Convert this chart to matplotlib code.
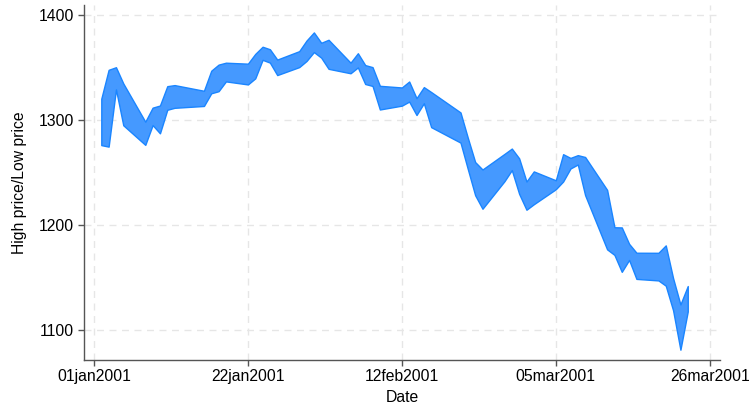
import matplotlib
matplotlib.use("Agg")
import matplotlib.pyplot as plt
import matplotlib.dates as mdates
import pandas as pd

plt.rcParams['font.family'] = ['Liberation Sans', 'DejaVu Sans']

# S&P 500 daily high/low, first quarter 2001
dates = [
    "2001-01-02", "2001-01-03", "2001-01-04", "2001-01-05", "2001-01-08", "2001-01-09",
    "2001-01-10", "2001-01-11", "2001-01-12", "2001-01-16", "2001-01-17", "2001-01-18",
    "2001-01-19", "2001-01-22", "2001-01-23", "2001-01-24", "2001-01-25", "2001-01-26",
    "2001-01-29", "2001-01-30", "2001-01-31", "2001-02-01", "2001-02-02", "2001-02-05",
    "2001-02-06", "2001-02-07", "2001-02-08", "2001-02-09", "2001-02-12", "2001-02-13",
    "2001-02-14", "2001-02-15", "2001-02-16", "2001-02-20", "2001-02-21", "2001-02-22",
    "2001-02-23", "2001-02-26", "2001-02-27", "2001-02-28", "2001-03-01", "2001-03-02",
    "2001-03-05", "2001-03-06", "2001-03-07", "2001-03-08", "2001-03-09", "2001-03-12",
    "2001-03-13", "2001-03-14", "2001-03-15", "2001-03-16", "2001-03-19", "2001-03-20",
    "2001-03-21", "2001-03-22", "2001-03-23",
]
high = [
    1320.28, 1347.76, 1350.24, 1334.77, 1298.35, 1311.72, 1313.76, 1332.19, 1333.21,
    1327.81, 1346.92, 1352.71, 1354.55, 1353.62, 1362.90, 1369.75, 1367.35, 1357.51,
    1365.54, 1375.68, 1383.37, 1373.50, 1376.38, 1354.56, 1363.55, 1352.26, 1350.32,
    1332.53, 1330.96, 1336.62, 1320.73, 1331.29, 1326.61, 1307.16, 1282.97, 1259.94,
    1252.82, 1267.69, 1272.76, 1263.47, 1241.36, 1251.01, 1242.55, 1267.42, 1263.86,
    1266.50, 1264.74, 1233.42, 1197.83, 1197.66, 1182.04, 1173.56, 1173.50, 1180.56,
    1149.39, 1124.27, 1141.83,
]
low = [
    1276.05, 1274.62, 1329.14, 1294.95, 1276.29, 1295.14, 1287.28, 1309.72, 1311.59,
    1313.33, 1325.41, 1327.41, 1336.74, 1333.84, 1339.63, 1357.28, 1354.63, 1342.75,
    1350.36, 1356.20, 1364.66, 1359.34, 1348.72, 1344.48, 1350.04, 1334.26, 1332.42,
    1309.98, 1313.64, 1317.51, 1304.72, 1315.92, 1293.18, 1278.44, 1253.16, 1228.33,
    1215.44, 1241.71, 1252.26, 1229.65, 1214.50, 1219.74, 1234.04, 1241.41, 1253.80,
    1257.60, 1228.42, 1176.78, 1171.50, 1155.35, 1166.71, 1148.64, 1147.18, 1142.19,
    1118.74, 1081.19, 1117.58,
]
tick_dates = ["2001-01-01", "2001-01-22", "2001-02-12", "2001-03-05", "2001-03-26"]
tick_labels = ["01jan2001", "22jan2001", "12feb2001", "05mar2001", "26mar2001"]
y_ticks = [1100, 1200, 1300, 1400]

x = mdates.date2num(pd.to_datetime(dates))
xt = mdates.date2num(pd.to_datetime(tick_dates))

fig = plt.figure(figsize=(7.52, 4.07), dpi=100)
left, right, bottom, top = 84 / 752, 720 / 752, (407 - 360) / 407, (407 - 5) / 407
ax = fig.add_axes([left, bottom, right - left, top - bottom])

ax.fill_between(x, low, high, facecolor="#4599ff", edgecolor="#1a85ff",
                linewidth=1.0, zorder=3)

ax.set_xticks(xt)
ax.set_xticklabels(tick_labels)
ax.set_yticks(y_ticks)
ax.set_xlim(xt[0] - 1.36, xt[0] + 85.4)
ax.set_ylim(1071.4, 1409.5)

ax.grid(True, color="#e6e6e6", linestyle=(0, (5, 4)), linewidth=1.0, zorder=0)
ax.set_axisbelow(True)

for side in ("top", "right"):
    ax.spines[side].set_visible(False)
for side in ("left", "bottom"):
    ax.spines[side].set_color("#555555")
    ax.spines[side].set_linewidth(1.0)

ax.tick_params(axis="both", direction="out", length=4.3, width=1.0,
               color="#555555", labelsize=11.3, labelcolor="#000000", pad=3)
ax.tick_params(axis="x", pad=2)
ax.set_xlabel("Date", fontsize=11.3, labelpad=4.5)
ax.set_ylabel("High price/Low price", fontsize=11.3, labelpad=8)

fig.savefig("out.png", dpi=100)
